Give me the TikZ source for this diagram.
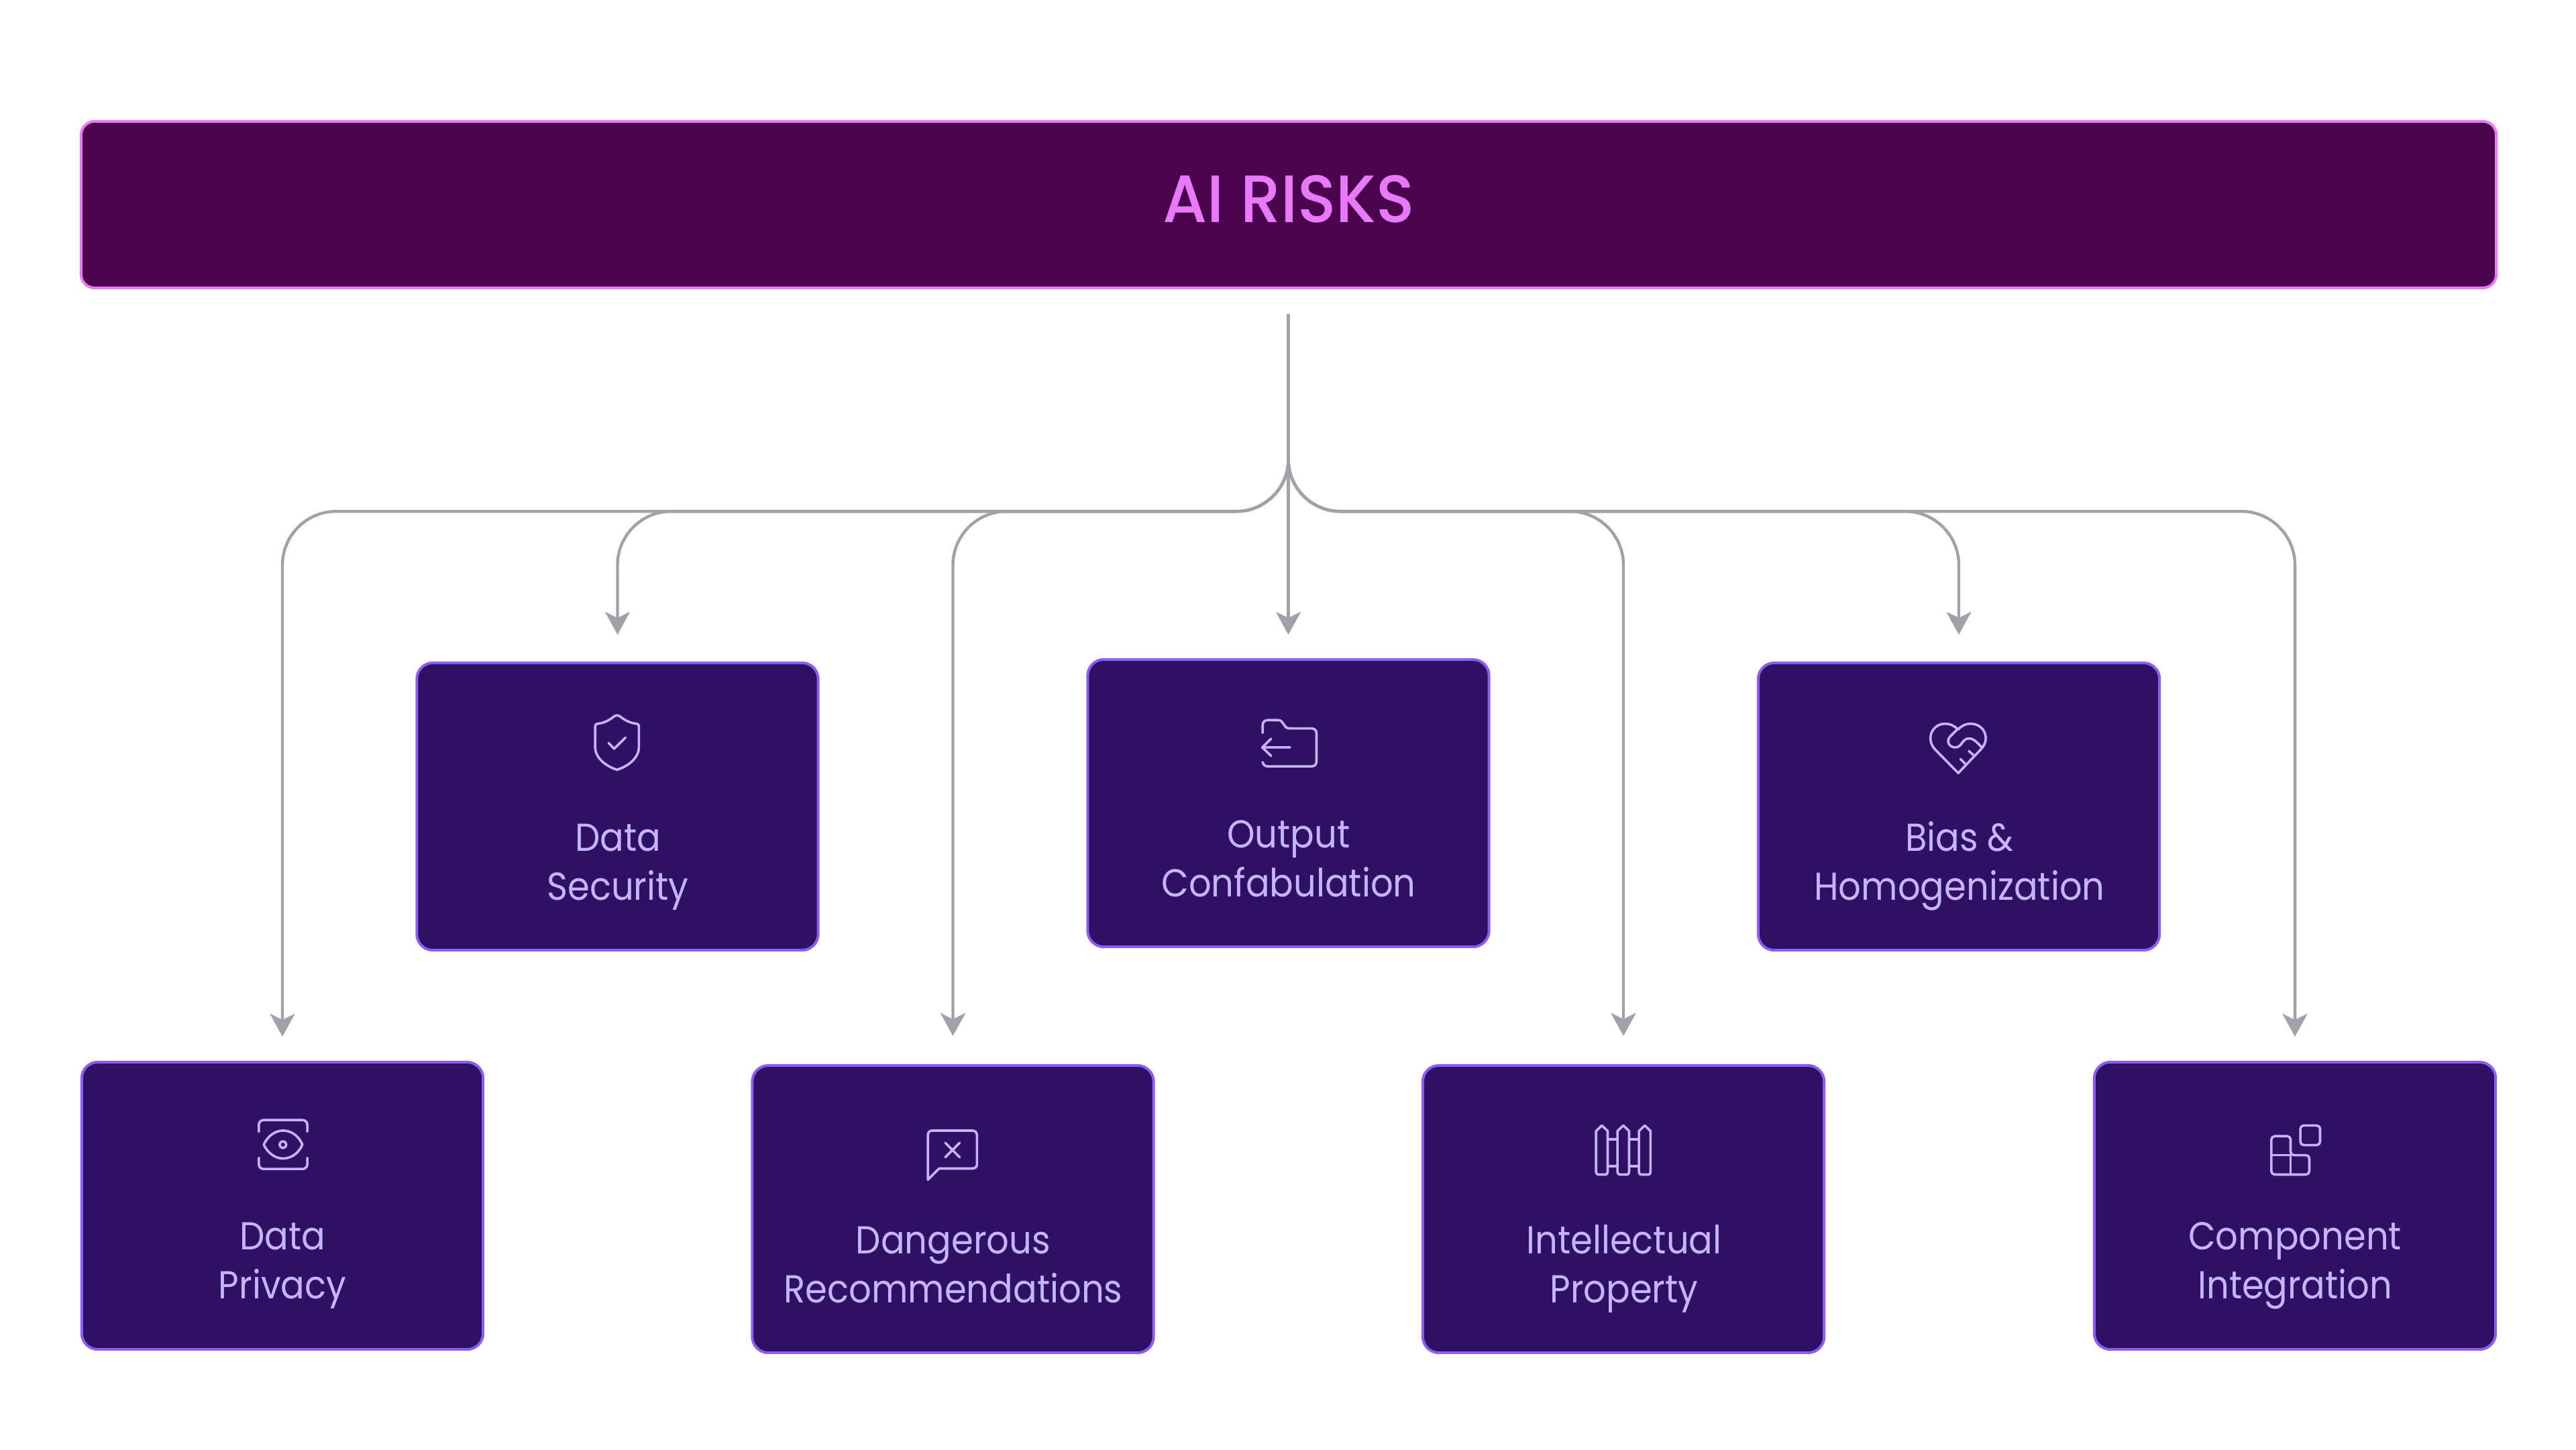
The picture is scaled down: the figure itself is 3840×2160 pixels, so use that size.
\documentclass[tikz,border=0pt]{standalone}
\usepackage{fontspec}
\setmainfont{Poppins}[FakeStretch=0.91]
\newfontfamily\titlefont{Poppins}[UprightFont=* Medium,FakeStretch=0.95]
\usetikzlibrary{arrows.meta,calc}
\definecolor{barfill}{HTML}{4A044E}
\definecolor{barline}{HTML}{E879F9}
\definecolor{cardfill}{HTML}{2E1065}
\definecolor{cardline}{HTML}{8B5CF6}
\definecolor{cardtext}{HTML}{C4B5FD}
\definecolor{wirecol}{HTML}{A1A1AA}
\tikzset{
  x=0.01cm,y=-0.01cm,
  barbox/.style={draw=barline,fill=barfill,line width=0.04cm,rounded corners=0.2cm,minimum width=35.98cm,minimum height=2.48cm,inner sep=0,outer sep=0},
  cardbox/.style={draw=cardline,fill=cardfill,line width=0.04cm,rounded corners=0.24cm,minimum width=5.98cm,minimum height=4.28cm,inner sep=0,outer sep=0},
  cardlabel/.style={text=cardtext,align=center,inner sep=0,outer sep=0,anchor=base,font=\fontsize{16.5pt}{20.5pt}\selectfont},
  wire/.style={draw=wirecol,line width=0.044cm},
  wirehead/.style={-{Stealth[length=0.34cm,width=0.37cm,inset=0.09cm]}},
  glyph/.style={draw=cardtext,line width=0.036cm,line cap=round,line join=round},
  zoomed/.style={x=0.003333cm,y=-0.003333cm}
}
\begin{document}
\begin{tikzpicture}
\fill[white] (0,0) rectangle (3840,2160);
\useasboundingbox (0,0) rectangle (3840,2160);
\node[barbox] (top) at (1921,305) {};
\node[text=barline,inner sep=0,anchor=base,font=\fontsize{28.4pt}{34pt}\titlefont] (title) at (1921,331) {AI RISKS};
\node[cardbox] (c1) at (421,1797) {};
\node[cardbox] (c2) at (920.5,1202) {};
\node[cardbox] (c3) at (1420.5,1802) {};
\node[cardbox] (c4) at (1920.5,1197) {};
\node[cardbox] (c5) at (2420,1802) {};
\node[cardbox] (c6) at (2920,1202) {};
\node[cardbox] (c7) at (3421,1797) {};
\node[cardlabel] (t1) at (421,1935) {Data\\Privacy};
\node[cardlabel] (t2) at (921,1341) {Data\\Security};
\node[cardlabel] (t3) at (1421,1941) {Dangerous\\Recommendations};
\node[cardlabel] (t4) at (1921,1336) {Output\\Confabulation};
\node[cardlabel] (t5) at (2421,1941) {Intellectual\\Property};
\node[cardlabel] (t6) at (2921,1341) {Bias \&\\Homogenization};
\node[cardlabel] (t7) at (3421,1935) {Component\\Integration};
% connectors
\coordinate (hub) at ($(c4.north |- top.south)+(0,256)$);
\coordinate (bus) at ($(c4.north |- top.south)+(0,333)$);
\draw[wire,wirehead] ($(c4.north |- top.south)+(0,39)$) -- ($(c4.north)+(0,-37)$);
\foreach \c/\s/\g in {c1/-1/38,c2/-1/42,c3/-1/44,c5/1/44,c6/1/42,c7/1/38}{
  \draw[wire,wirehead] (hub) .. controls ($(hub)+(0,42)$) and ($(hub)+(\s*35,77)$) .. ($(hub)+(\s*77,77)$)
    -- ($(\c.north |- bus)+(-\s*80,0)$)
    .. controls ($(\c.north |- bus)+(-\s*36,0)$) and ($(\c.north |- bus)+(0,36)$) .. ($(\c.north |- bus)+(0,80)$)
    -- ($(\c.north)+(0,-\g)$);
}
% icons, each in the coordinates of a 3x crop
\begin{scope}[shift={(300,1630)},zoomed]
  \draw[glyph,rounded corners=0.07cm] (258,170) -- (258,118) -- (475,118) -- (475,170);
  \draw[glyph,rounded corners=0.07cm] (258,287) -- (258,337) -- (475,337) -- (475,287);
  \draw[glyph] (280,228) .. controls (300,185) and (335,165) .. (366,165) .. controls (400,165) and (435,185) .. (453,228) .. controls (435,270) and (400,290) .. (366,290) .. controls (335,290) and (300,270) .. (280,228) -- cycle;
  \draw[glyph] (366,228) circle (15);
\end{scope}
\begin{scope}[shift={(800,1030)},zoomed]
  \draw[glyph] (262,158) .. controls (262,150) and (266,147) .. (272,146) .. controls (305,143) and (330,127) .. (348,112) .. controls (355,107) and (365,107) .. (372,112) .. controls (390,127) and (415,143) .. (448,146) .. controls (454,147) and (458,150) .. (458,158) -- (458,250) .. controls (458,305) and (400,340) .. (360,352) .. controls (320,340) and (262,305) .. (262,250) -- cycle;
  \draw[glyph] (322,232) -- (347,258) -- (398,208);
\end{scope}
\begin{scope}[shift={(1300,1640)},zoomed]
  \draw[glyph] (250,355) -- (250,155) .. controls (250,142) and (258,135) .. (270,135) -- (447,135) .. controls (462,135) and (470,143) .. (470,158) -- (470,285) .. controls (470,298) and (462,305) .. (447,305) -- (300,305) -- cycle;
  \draw[glyph] (328,190) -- (392,254) (392,190) -- (328,254);
\end{scope}
\begin{scope}[shift={(1810,1030)},zoomed]
  \draw[glyph] (217,187) -- (217,152) .. controls (217,138) and (226,130) .. (240,130) -- (288,130) .. controls (310,130) and (312,167) .. (335,167) -- (435,167) .. controls (450,167) and (458,176) .. (458,190) -- (458,315) .. controls (458,329) and (450,337) .. (435,337) -- (240,337) .. controls (228,337) and (219,330) .. (217,318);
  \draw[glyph] (340,252) -- (215,252) (255,213) -- (215,252) -- (255,290);
\end{scope}
\begin{scope}[shift={(2300,1640)},zoomed]
  \foreach \p in {238,334,430}{
    \draw[glyph] (\p,137) -- (\p+26,112) -- (\p+52,137) -- (\p+52,320) .. controls (\p+52,328) and (\p+48,332) .. (\p+42,332) -- (\p+10,332) .. controls (\p+4,332) and (\p,328) .. (\p,320) -- cycle;
  }
  \draw[glyph] (290,174) -- (334,174) (386,174) -- (430,174) (290,294) -- (334,294) (386,294) -- (430,294);
\end{scope}
\begin{scope}[shift={(2800,1030)},zoomed]
  \draw[glyph] (358,367) -- (255,262) .. controls (210,215) and (240,146) .. (300,146) .. controls (322,146) and (340,155) .. (357,172) .. controls (375,153) and (393,146) .. (413,146) .. controls (475,146) and (505,215) .. (458,262) -- cycle;
  \draw[glyph] (357,168) -- (322,203) .. controls (303,222) and (315,252) .. (345,252) .. controls (375,252) and (375,212) .. (405,212) .. controls (430,212) and (440,230) .. (462,250);
  \draw[glyph] (430,290) -- (405,268) (388,325) -- (368,304);
\end{scope}
\begin{scope}[shift={(3300,1640)},zoomed]
  \draw[glyph,rounded corners=0.05cm] (388,112) rectangle (476,200);
  \draw[glyph,rounded corners=0.05cm] (258,245) -- (258,160) -- (344,160) -- (344,245) -- (428,245) -- (428,332) -- (258,332) -- cycle;
  \draw[glyph] (258,245) -- (344,245) -- (344,332);
\end{scope}
\end{tikzpicture}
\end{document}
